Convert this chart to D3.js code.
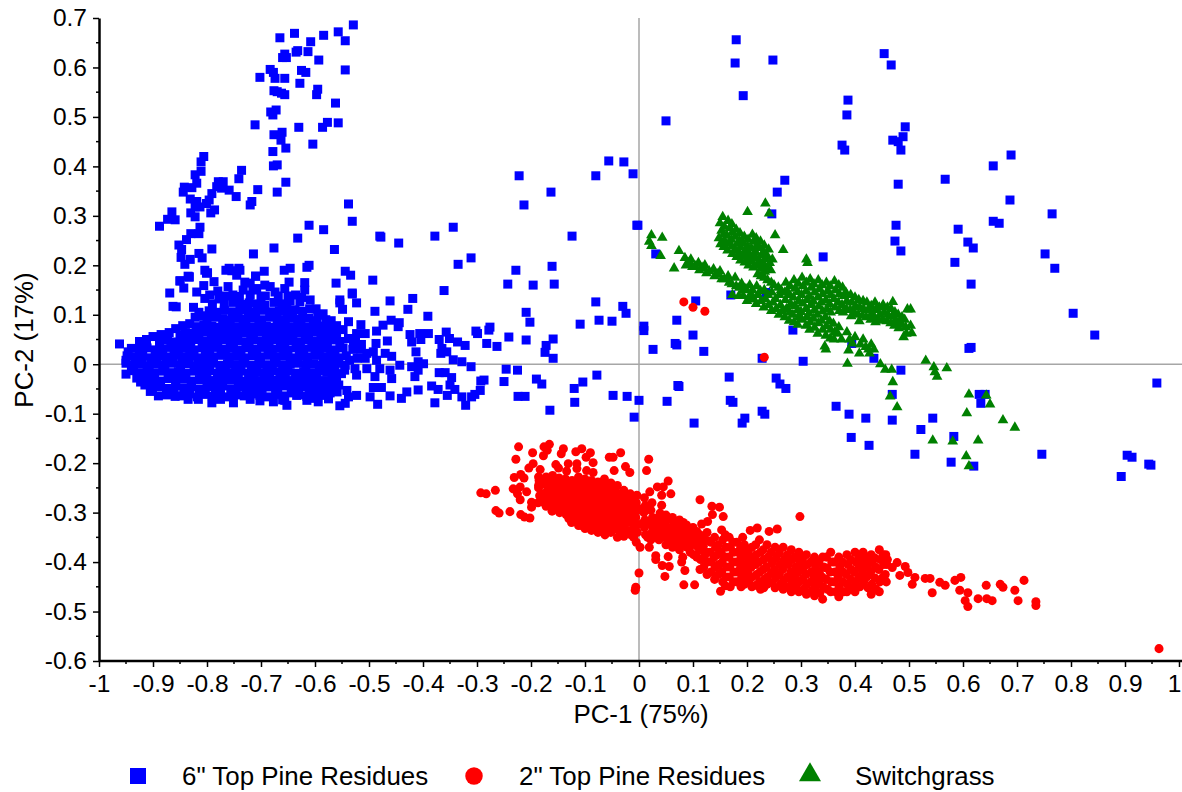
<!DOCTYPE html>
<html><head><meta charset="utf-8">
<script src="https://cdn.jsdelivr.net/npm/d3@7"></script>
<style>html,body{margin:0;padding:0;background:#fff;overflow:hidden}text{font-family:"Liberation Sans",Arial,sans-serif;fill:#000}</style>
</head><body><svg id="c" width="1182" height="792"></svg>
<script>
const xTicks=[-1,-0.9,-0.8,-0.7,-0.6,-0.5,-0.4,-0.3,-0.2,-0.1,0,0.1,0.2,0.3,0.4,0.5,0.6,0.7,0.8,0.9,1];
const yTicks=[0.7,0.6,0.5,0.4,0.3,0.2,0.1,0,-0.1,-0.2,-0.3,-0.4,-0.5,-0.6];
const seriesNames=['6" Top Pine Residues','2" Top Pine Residues','Switchgrass'];
const seriesColors=['#0000ff','#ff0000','#008000'];
const xTitle='PC-1 (75%)', yTitle='PC-2 (17%)';

// 6" Top Pine Residues: upper lobe
const blueUpper=[[-0.529,0.686],[-0.557,0.672],[-0.638,0.669],[-0.665,0.660],[-0.584,0.665],[-0.544,0.654],[-0.608,0.652],[-0.632,0.634],[-0.635,0.631],[-0.613,0.632],[-0.656,0.627],[-0.660,0.620],[-0.653,0.620],[-0.593,0.615],[-0.544,0.595],[-0.683,0.596],[-0.677,0.590],[-0.625,0.594],[-0.617,0.590],[-0.702,0.580],[-0.674,0.578],[-0.656,0.578],[-0.628,0.568],[-0.595,0.556],[-0.597,0.545],[-0.676,0.553],[-0.670,0.551],[-0.662,0.548],[-0.656,0.545],[-0.562,0.528],[-0.672,0.514],[-0.682,0.510],[-0.678,0.504],[-0.577,0.489],[-0.557,0.488],[-0.586,0.479],[-0.711,0.484],[-0.630,0.479],[-0.661,0.469],[-0.676,0.464],[-0.663,0.453],[-0.654,0.437],[-0.604,0.445],[-0.678,0.430],[-0.670,0.403],[-0.677,0.401],[-0.736,0.392],[-0.741,0.375],[-0.654,0.368],[-0.670,0.348],[-0.706,0.353],[-0.806,0.420],[-0.811,0.409],[-0.811,0.390],[-0.822,0.383],[-0.819,0.366],[-0.842,0.358],[-0.828,0.357],[-0.844,0.348],[-0.779,0.369],[-0.770,0.369],[-0.782,0.359],[-0.773,0.356],[-0.759,0.352],[-0.746,0.339],[-0.791,0.345],[-0.796,0.332],[-0.831,0.334],[-0.819,0.329],[-0.801,0.325],[-0.813,0.318],[-0.822,0.318],[-0.786,0.312],[-0.793,0.306],[-0.830,0.306],[-0.822,0.298],[-0.865,0.308],[-0.873,0.293],[-0.859,0.292],[-0.888,0.279],[-0.813,0.277],[-0.830,0.264],[-0.815,0.264],[-0.838,0.252],[-0.852,0.241],[-0.847,0.232],[-0.815,0.224],[-0.791,0.233],[-0.848,0.216],[-0.831,0.212],[-0.809,0.215],[-0.841,0.202],[-0.717,0.329],[-0.720,0.322],[-0.611,0.281],[-0.584,0.272],[-0.632,0.255],[-0.531,0.289],[-0.538,0.324],[-0.478,0.257],[-0.445,0.245],[-0.564,0.232],[-0.676,0.235],[-0.714,0.223],[-0.611,0.200],[-0.657,0.190],[-0.694,0.188],[-0.765,0.190],[-0.741,0.194],[-0.754,0.189],[-0.745,0.180],[-0.710,0.178],[-0.544,0.188],[-0.534,0.180],[-0.799,0.185],[-0.833,0.177],[-0.850,0.169],[-0.493,0.170],[-0.561,0.164],[-0.531,0.142],[-0.554,0.130],[-0.615,0.196],[-0.646,0.194],[-0.693,0.160],[-0.720,0.164],[-0.739,0.190],[-0.759,0.194],[-0.804,0.190],[-0.843,0.154],[-0.863,0.117],[-0.835,0.178]];
// 6" Top Pine Residues: sparse points to the right
const blueSparse=[[-0.480,0.259],[-0.378,0.259],[-0.344,0.277],[-0.335,0.202],[-0.311,0.215],[-0.222,0.381],[-0.213,0.322],[-0.163,0.348],[-0.124,0.259],[-0.080,0.381],[-0.056,0.411],[-0.028,0.409],[-0.011,0.385],[-0.002,0.281],[0.050,0.492],[-0.228,0.190],[-0.243,0.162],[-0.161,0.198],[-0.196,0.160],[-0.157,0.162],[-0.080,0.126],[-0.030,0.117],[-0.050,0.087],[-0.074,0.089],[-0.109,0.081],[-0.209,0.105],[-0.209,0.049],[-0.202,0.085],[-0.241,0.055],[-0.276,0.075],[-0.263,0.036],[-0.302,0.067],[-0.322,0.038],[-0.159,0.051],[-0.174,0.024],[-0.159,0.012],[-0.172,0.038],[-0.246,-0.010],[-0.287,-0.032],[-0.250,-0.035],[-0.224,-0.065],[-0.211,-0.065],[-0.165,-0.093],[-0.119,-0.077],[-0.104,-0.036],[-0.120,-0.049],[-0.078,-0.022],[-0.048,-0.063],[-0.022,-0.065],[-0.009,-0.107],[0,-0.073],[0.052,-0.075],[0.072,-0.043],[0.102,-0.119],[-0.180,-0.040],[-0.190,-0.030],[-0.225,-0.012],[0.180,0.656],[0.178,0.609],[0.193,0.543],[0.248,0.615],[0.454,0.628],[0.467,0.605],[0.387,0.534],[0.385,0.504],[0.376,0.443],[0.381,0.433],[0.470,0.453],[0.480,0.450],[0.493,0.480],[0.485,0.433],[0.489,0.460],[0.480,0.364],[0.567,0.374],[0.656,0.401],[0.689,0.423],[0.687,0.332],[0.656,0.289],[0.667,0.285],[0.765,0.304],[0.752,0.223],[0.770,0.194],[0.804,0.103],[0.844,0.059],[0.959,-0.038],[0.591,0.273],[0.609,0.247],[0.619,0.235],[0.585,0.206],[0.476,0.281],[0.474,0.249],[0.485,0.229],[0.611,0.032],[0.615,0.034],[0.615,0.162],[0.630,-0.061],[0.641,-0.061],[0.633,-0.079],[0.893,-0.227],[0.904,-0.184],[0.913,-0.188],[0.944,-0.202],[0.948,-0.204],[0.746,-0.182],[0.620,-0.206],[0.578,-0.198],[0.511,-0.182],[0.522,-0.132],[0.544,-0.109],[0.583,-0.146],[0.469,-0.061],[0.469,-0.113],[0.420,-0.109],[0.389,-0.101],[0.365,-0.085],[0.393,-0.148],[0.426,-0.164],[0.191,-0.119],[0.196,-0.109],[0.169,-0.073],[0.174,-0.077],[0.228,-0.095],[0.233,-0.101],[0.254,-0.028],[0.261,-0.040],[0.272,-0.049],[0.167,-0.026],[0.304,0.006],[0.228,0.012],[0.031,0.223],[0.105,0.128],[-0.024,0.103],[0.009,0.077],[0.009,0.068],[0.070,0.089],[0.100,0.059],[0.067,0.042],[0.070,0.039],[0.026,0.030],[0.120,0.026],[0.074,-0.045],[0.485,-0.012],[0.435,0.012],[0.394,0.042],[0.341,0.217],[0.246,0.304],[0.256,0.348],[0.270,0.372],[0.285,0.069],[0.235,0.145],[0.170,0.140],[-0.004,0.281]];
// 6" Top Pine Residues: fringe of the lower cluster
const blueFringe=[[-0.361,0.149],[-0.419,0.133],[-0.461,0.128],[-0.531,0.144],[-0.523,0.124],[-0.554,0.124],[-0.549,0.111],[-0.489,0.107],[-0.428,0.111],[-0.391,0.097],[-0.538,0.086],[-0.515,0.080],[-0.459,0.089],[-0.474,0.079],[-0.444,0.084],[-0.446,0.076],[-0.486,0.067],[-0.523,0.062],[-0.507,0.062],[-0.424,0.060],[-0.406,0.062],[-0.390,0.062],[-0.357,0.065],[-0.299,0.062],[-0.278,0.069],[-0.282,0.042],[-0.370,0.050],[-0.351,0.052],[-0.336,0.045],[-0.404,0.050],[-0.421,0.045],[-0.466,0.047],[-0.487,0.042],[-0.514,0.040],[-0.529,0.043],[-0.413,0.025],[-0.365,0.032],[-0.356,0.025],[-0.367,0.022],[-0.504,0.022],[-0.492,0.025],[-0.470,0.022],[-0.458,0.016],[-0.507,0.012],[-0.486,0.008],[-0.344,0.009],[-0.328,0.005],[-0.409,0.005],[-0.399,0.001],[-0.311,-0.005],[-0.443,-0.002],[-0.421,-0.005],[-0.526,-0.009],[-0.504,-0.009],[-0.480,-0.009],[-0.461,-0.012],[-0.409,-0.012],[-0.370,-0.017],[-0.359,-0.017],[-0.347,-0.027],[-0.551,-0.019],[-0.523,-0.022],[-0.489,-0.025],[-0.458,-0.029],[-0.415,-0.025],[-0.293,-0.034],[-0.384,-0.044],[-0.372,-0.051],[-0.350,-0.042],[-0.341,-0.051],[-0.355,-0.063],[-0.294,-0.053],[-0.304,-0.061],[-0.310,-0.066],[-0.328,-0.066],[-0.321,-0.083],[-0.378,-0.078],[-0.409,-0.052],[-0.430,-0.056],[-0.440,-0.069],[-0.461,-0.064],[-0.477,-0.047],[-0.492,-0.047],[-0.498,-0.066],[-0.484,-0.081],[-0.523,-0.063],[-0.541,-0.053],[-0.538,-0.066],[-0.544,-0.079],[-0.554,-0.084],[-0.559,-0.056],[-0.578,-0.056],[-0.594,-0.076],[-0.603,-0.069],[-0.652,-0.083],[-0.656,-0.073],[-0.634,-0.063],[-0.677,-0.076],[-0.702,-0.074],[-0.751,-0.078],[-0.791,-0.078],[-0.816,-0.071],[-0.859,-0.065],[-0.890,-0.064],[-0.923,-0.036],[-0.950,-0.020],[-0.962,0.041],[-0.946,0.025],[-0.857,0.116],[-0.869,0.144],[-0.850,0.168],[-0.833,0.176],[-0.801,0.184],[-0.806,0.159],[-0.787,0.167],[-0.730,0.166],[-0.710,0.178],[-0.648,0.166],[-0.619,0.165],[-0.819,0.146],[-0.825,0.115],[-0.804,0.133],[-0.761,0.157],[-0.708,0.153],[-0.683,0.157],[-0.674,0.146],[-0.656,0.153],[-0.619,0.150],[-0.609,0.130],[-0.628,0.126],[-0.693,0.119],[-0.652,0.119],[-0.595,0.099]];
// 6" Top Pine Residues: dense core
const blueCore=[[-0.875,-0.062],[-0.861,-0.058],[-0.847,-0.064],[-0.832,-0.06],[-0.818,-0.066],[-0.803,-0.061],[-0.79,-0.065],[-0.775,-0.059],[-0.76,-0.066],[-0.746,-0.062],[-0.731,-0.064],[-0.717,-0.06],[-0.702,-0.063],[-0.688,-0.066],[-0.673,-0.061],[-0.659,-0.064],[-0.644,-0.058],[-0.63,-0.062],[-0.615,-0.065],[-0.6,-0.06],[-0.586,-0.063],
[-0.915,-0.042],[-0.901,-0.047],[-0.886,-0.045],[-0.872,-0.049],[-0.858,-0.044],[-0.843,-0.048],[-0.829,-0.046],[-0.814,-0.05],[-0.8,-0.045],[-0.785,-0.048],[-0.771,-0.044],[-0.756,-0.05],[-0.742,-0.046],[-0.727,-0.048],[-0.713,-0.045],[-0.698,-0.049],[-0.684,-0.046],[-0.669,-0.048],[-0.655,-0.044],[-0.64,-0.049],[-0.626,-0.046],[-0.611,-0.048],[-0.597,-0.045],[-0.582,-0.047],[-0.568,-0.044],
[-0.93,-0.028],[-0.916,-0.032],[-0.901,-0.03],[-0.887,-0.034],[-0.872,-0.029],[-0.858,-0.032],[-0.843,-0.03],[-0.829,-0.034],[-0.814,-0.031],[-0.8,-0.029],[-0.785,-0.033],[-0.771,-0.03],[-0.756,-0.032],[-0.742,-0.029],[-0.727,-0.034],[-0.713,-0.031],[-0.698,-0.033],[-0.684,-0.03],[-0.669,-0.032],[-0.655,-0.029],[-0.64,-0.033],[-0.626,-0.03],[-0.611,-0.032],[-0.597,-0.029],[-0.582,-0.033],[-0.568,-0.03],
[-0.94,-0.013],[-0.926,-0.017],[-0.911,-0.015],[-0.897,-0.018],[-0.882,-0.014],[-0.868,-0.017],[-0.853,-0.015],[-0.839,-0.018],[-0.824,-0.014],[-0.81,-0.016],[-0.795,-0.013],[-0.781,-0.018],[-0.766,-0.015],[-0.752,-0.017],[-0.737,-0.014],[-0.723,-0.018],[-0.708,-0.015],[-0.694,-0.017],[-0.679,-0.013],[-0.665,-0.016],[-0.65,-0.014],[-0.636,-0.018],[-0.621,-0.015],[-0.607,-0.017],[-0.592,-0.014],[-0.578,-0.016],[-0.563,-0.013],
[-0.95,0.002],[-0.936,-0.002],[-0.921,0.001],[-0.907,-0.003],[-0.892,0],[-0.878,-0.002],[-0.863,0.002],[-0.849,-0.001],[-0.834,0.001],[-0.82,-0.003],[-0.805,0],[-0.791,0.002],[-0.776,-0.002],[-0.762,0.001],[-0.747,-0.001],[-0.733,0.002],[-0.718,-0.002],[-0.704,0.001],[-0.689,-0.001],[-0.675,0.002],[-0.66,-0.002],[-0.646,0],[-0.631,0.002],[-0.617,-0.001],[-0.602,0.001],[-0.588,-0.002],[-0.573,0],[-0.559,0.002],[-0.544,-0.002],
[-0.948,0.017],[-0.933,0.014],[-0.919,0.016],[-0.904,0.013],[-0.89,0.017],[-0.875,0.015],[-0.861,0.018],[-0.846,0.014],[-0.832,0.016],[-0.817,0.013],[-0.803,0.017],[-0.788,0.015],[-0.774,0.018],[-0.759,0.014],[-0.745,0.016],[-0.73,0.013],[-0.716,0.017],[-0.701,0.015],[-0.687,0.018],[-0.672,0.014],[-0.658,0.016],[-0.643,0.013],[-0.629,0.017],[-0.614,0.015],[-0.6,0.018],[-0.585,0.014],[-0.571,0.016],[-0.556,0.013],[-0.542,0.017],
[-0.94,0.032],[-0.925,0.03],[-0.911,0.033],[-0.896,0.029],[-0.882,0.031],[-0.867,0.034],[-0.853,0.03],[-0.838,0.032],[-0.824,0.029],[-0.809,0.033],[-0.795,0.031],[-0.78,0.034],[-0.766,0.03],[-0.751,0.032],[-0.737,0.029],[-0.722,0.033],[-0.708,0.031],[-0.693,0.034],[-0.679,0.03],[-0.664,0.032],[-0.65,0.029],[-0.635,0.033],[-0.621,0.031],[-0.606,0.034],[-0.592,0.03],[-0.577,0.032],[-0.563,0.029],[-0.548,0.033],
[-0.888,0.046],[-0.873,0.049],[-0.859,0.045],[-0.844,0.048],[-0.83,0.046],[-0.815,0.05],[-0.801,0.047],[-0.786,0.045],[-0.772,0.049],[-0.757,0.046],[-0.743,0.048],[-0.728,0.045],[-0.714,0.05],[-0.699,0.047],[-0.685,0.045],[-0.67,0.049],[-0.656,0.046],[-0.641,0.048],[-0.627,0.045],[-0.612,0.05],[-0.598,0.047],[-0.583,0.045],[-0.569,0.049],[-0.554,0.046],
[-0.85,0.06],[-0.835,0.063],[-0.821,0.061],[-0.806,0.065],[-0.792,0.062],[-0.777,0.06],[-0.763,0.064],[-0.748,0.061],[-0.734,0.063],[-0.719,0.06],[-0.705,0.065],[-0.69,0.062],[-0.676,0.06],[-0.661,0.064],[-0.647,0.061],[-0.632,0.063],[-0.618,0.06],[-0.603,0.065],[-0.589,0.062],[-0.574,0.06],[-0.56,0.064],
[-0.82,0.076],[-0.806,0.08],[-0.791,0.077],[-0.777,0.075],[-0.762,0.079],[-0.748,0.076],[-0.733,0.078],[-0.719,0.075],[-0.704,0.08],[-0.69,0.077],[-0.675,0.075],[-0.661,0.079],[-0.646,0.076],[-0.632,0.078],[-0.617,0.075],[-0.603,0.08],[-0.588,0.077],[-0.574,0.075],
[-0.8,0.091],[-0.786,0.095],[-0.771,0.092],[-0.757,0.09],[-0.742,0.094],[-0.728,0.091],[-0.713,0.093],[-0.699,0.09],[-0.684,0.095],[-0.67,0.092],[-0.655,0.09],[-0.641,0.094],[-0.626,0.091],[-0.612,0.093],[-0.597,0.088],
[-0.782,0.105],[-0.768,0.109],[-0.753,0.106],[-0.739,0.11],[-0.724,0.107],[-0.71,0.105],[-0.695,0.109],[-0.681,0.106],[-0.666,0.108],[-0.652,0.105],[-0.637,0.11],[-0.623,0.107],
[-0.768,0.122],[-0.752,0.125],[-0.737,0.121],[-0.722,0.124],[-0.707,0.122],[-0.676,0.125],[-0.661,0.122],[-0.646,0.128],[-0.74,0.137],[-0.72,0.14],[-0.7,0.136],[-0.668,0.138]];
// 6" Top Pine Residues: shoulders and top of the core
const blueShoulder=[[-0.925,0.046],[-0.912,0.05],[-0.9,0.056],[-0.885,0.06],[-0.87,0.064],[-0.858,0.072],[-0.845,0.078],[-0.832,0.082],[-0.84,0.064],[-0.822,0.095],[-0.815,0.105],[-0.808,0.098],[-0.796,0.108],[-0.79,0.122],[-0.778,0.132],[-0.764,0.138],[-0.752,0.14],[-0.733,0.15],[-0.795,0.14],[-0.78,0.148],[-0.715,0.15],[-0.692,0.138],[-0.65,0.138],[-0.636,0.14],[-0.625,0.135],[-0.61,0.112],[-0.598,0.112],[-0.585,0.102],[-0.58,0.09],[-0.57,0.088],[-0.56,0.078],[-0.548,0.07],[-0.538,0.052],[-0.525,0.048],[-0.515,0.03],[-0.53,0.03],[-0.522,0.012],[-0.536,0.008],[-0.545,-0.012],[-0.56,-0.03],[-0.556,-0.042],[-0.572,-0.058],[-0.575,-0.07],[-0.615,-0.073],[-0.66,-0.072],[-0.72,-0.071],[-0.775,-0.071],[-0.835,-0.071],[-0.87,-0.055],[-0.905,-0.055],[-0.95,0.008]];
// 2" Top Pine Residues: scattered points
const redSparse=[[-0.293,-0.260],[-0.283,-0.262],[-0.266,-0.255],[-0.265,-0.296],[-0.259,-0.301],[-0.239,-0.298],[-0.219,-0.304],[-0.212,-0.309],[-0.202,-0.311],[-0.223,-0.167],[-0.228,-0.192],[-0.197,-0.179],[-0.176,-0.167],[-0.166,-0.162],[-0.170,-0.174],[-0.177,-0.185],[-0.140,-0.171],[-0.144,-0.181],[-0.117,-0.177],[-0.106,-0.171],[-0.090,-0.179],[-0.098,-0.188],[-0.055,-0.188],[-0.048,-0.188],[-0.034,-0.179],[0.018,-0.192],[0.014,-0.215],[-0.085,-0.199],[-0.154,-0.203],[-0.131,-0.201],[-0.115,-0.201],[-0.196,-0.201],[-0.204,-0.210],[-0.183,-0.213],[-0.134,-0.216],[-0.115,-0.211],[-0.149,-0.210],[-0.097,-0.215],[-0.085,-0.219],[-0.046,-0.215],[-0.025,-0.207],[-0.017,-0.219],[-0.231,-0.229],[-0.219,-0.223],[-0.213,-0.230],[-0.233,-0.252],[-0.220,-0.248],[-0.225,-0.262],[-0.220,-0.274],[-0.208,-0.258],[-0.199,-0.279],[-0.199,-0.289],[-0.186,-0.228],[-0.186,-0.245],[0.054,-0.236],[0.045,-0.248],[0.034,-0.248],[0.059,-0.262],[0.020,-0.258],[0.113,-0.274],[0.042,-0.265],[0.042,-0.285],[0.039,-0.301],[0.149,-0.289],[0.136,-0.304],[0.156,-0.308],[0.127,-0.318],[0.116,-0.323],[0.219,-0.331],[0.241,-0.338],[0.256,-0.333],[0.192,-0.350],[0.031,-0.387],[0.031,-0.395],[0.054,-0.389],[0.056,-0.409],[0.043,-0.407],[0.048,-0.429],[0.083,-0.446],[0.103,-0.446],[0,-0.422],[-0.006,-0.451],[-0.007,-0.457],[0.151,-0.459],[0.002,-0.370],[0.019,-0.370],[0.081,-0.390],[0.079,-0.400],[0.085,-0.417],[0.298,-0.308],[0.206,-0.336],[0.135,-0.287],[0.083,0.126],[0.100,0.115],[0.122,0.107],[0.232,0.014]];
// 2" Top Pine Residues: long tail
const redTail=[[0.469,-0.411],[0.478,-0.401],[0.493,-0.409],[0.483,-0.427],[0.498,-0.421],[0.511,-0.431],[0.506,-0.445],[0.530,-0.433],[0.539,-0.433],[0.543,-0.462],[0.557,-0.441],[0.567,-0.447],[0.585,-0.437],[0.594,-0.457],[0.596,-0.431],[0.604,-0.478],[0.609,-0.462],[0.609,-0.490],[0.628,-0.474],[0.643,-0.447],[0.644,-0.474],[0.654,-0.478],[0.669,-0.445],[0.674,-0.451],[0.696,-0.457],[0.702,-0.478],[0.713,-0.437],[0.735,-0.488],[0.735,-0.480],[0.963,-0.575]];
// 2" Top Pine Residues: dense left blob
const redBlobA=[[-0.185,-0.235],[-0.186,-0.25],[-0.184,-0.266],[-0.187,-0.28],[-0.172,-0.228],[-0.174,-0.243],[-0.171,-0.258],[-0.173,-0.272],[-0.172,-0.287],[-0.16,-0.225],[-0.161,-0.24],[-0.159,-0.254],[-0.162,-0.268],[-0.16,-0.283],[-0.161,-0.297],[-0.148,-0.23],[-0.149,-0.245],[-0.147,-0.259],[-0.15,-0.273],[-0.148,-0.287],[-0.147,-0.3],[-0.136,-0.232],[-0.137,-0.246],[-0.135,-0.26],[-0.138,-0.275],[-0.136,-0.289],[-0.135,-0.304],[-0.124,-0.235],[-0.125,-0.25],[-0.123,-0.263],[-0.126,-0.277],[-0.124,-0.292],[-0.123,-0.306],[-0.125,-0.32],[-0.112,-0.228],[-0.113,-0.243],[-0.111,-0.258],[-0.114,-0.272],[-0.112,-0.287],[-0.111,-0.3],[-0.113,-0.314],[-0.112,-0.326],[-0.1,-0.232],[-0.101,-0.247],[-0.099,-0.261],[-0.102,-0.276],[-0.1,-0.29],[-0.099,-0.305],[-0.101,-0.32],[-0.1,-0.332],[-0.088,-0.235],[-0.089,-0.25],[-0.087,-0.264],[-0.09,-0.279],[-0.088,-0.293],[-0.087,-0.308],[-0.089,-0.322],[-0.088,-0.336],[-0.076,-0.238],[-0.077,-0.253],[-0.075,-0.268],[-0.078,-0.282],[-0.076,-0.297],[-0.075,-0.311],[-0.077,-0.326],[-0.076,-0.34],[-0.064,-0.232],[-0.065,-0.247],[-0.063,-0.262],[-0.066,-0.276],[-0.064,-0.291],[-0.063,-0.305],[-0.065,-0.32],[-0.064,-0.334],[-0.063,-0.345],[-0.052,-0.24],[-0.053,-0.255],[-0.051,-0.27],[-0.054,-0.284],[-0.052,-0.299],[-0.051,-0.313],[-0.053,-0.327],[-0.052,-0.34],[-0.04,-0.245],[-0.041,-0.26],[-0.039,-0.275],[-0.042,-0.289],[-0.04,-0.304],[-0.039,-0.318],[-0.041,-0.333],[-0.04,-0.35],[-0.028,-0.255],[-0.029,-0.27],[-0.027,-0.284],[-0.03,-0.299],[-0.028,-0.313],[-0.027,-0.33],[-0.028,-0.348],[-0.016,-0.262],[-0.017,-0.277],[-0.015,-0.291],[-0.018,-0.306],[-0.016,-0.32],[-0.015,-0.345],[-0.004,-0.265],[-0.005,-0.28],[-0.003,-0.295],[-0.006,-0.31],[-0.004,-0.325],[-0.003,-0.34],[-0.005,-0.36]];
// 2" Top Pine Residues: fill of the left blob
const redBlobAFill=[[-0.178,-0.242],[-0.177,-0.262],[-0.179,-0.278],[-0.166,-0.235],[-0.165,-0.25],[-0.167,-0.264],[-0.166,-0.279],[-0.154,-0.238],[-0.155,-0.252],[-0.153,-0.266],[-0.154,-0.28],[-0.155,-0.293],[-0.142,-0.239],[-0.143,-0.253],[-0.141,-0.267],[-0.142,-0.281],[-0.143,-0.296],[-0.13,-0.241],[-0.131,-0.255],[-0.129,-0.27],[-0.13,-0.284],[-0.131,-0.298],[-0.13,-0.312],[-0.118,-0.242],[-0.119,-0.257],[-0.117,-0.271],[-0.118,-0.285],[-0.119,-0.299],[-0.118,-0.313],[-0.106,-0.24],[-0.107,-0.254],[-0.105,-0.268],[-0.106,-0.283],[-0.107,-0.297],[-0.106,-0.312],[-0.106,-0.326],[-0.094,-0.243],[-0.095,-0.257],[-0.093,-0.272],[-0.094,-0.286],[-0.095,-0.3],[-0.094,-0.315],[-0.094,-0.328],[-0.082,-0.245],[-0.083,-0.26],[-0.081,-0.274],[-0.082,-0.288],[-0.083,-0.302],[-0.082,-0.316],[-0.082,-0.33],[-0.07,-0.244],[-0.071,-0.259],[-0.069,-0.273],[-0.07,-0.287],[-0.071,-0.302],[-0.07,-0.316],[-0.07,-0.33],[-0.058,-0.248],[-0.059,-0.263],[-0.057,-0.278],[-0.058,-0.292],[-0.059,-0.306],[-0.058,-0.32],[-0.046,-0.252],[-0.047,-0.267],[-0.045,-0.282],[-0.046,-0.296],[-0.047,-0.31],[-0.046,-0.325],[-0.034,-0.262],[-0.035,-0.277],[-0.033,-0.292],[-0.034,-0.306],[-0.035,-0.32],[-0.034,-0.34],[-0.022,-0.268],[-0.023,-0.283],[-0.021,-0.298],[-0.022,-0.32],[-0.023,-0.337],[-0.01,-0.272],[-0.011,-0.287],[-0.009,-0.302],[-0.01,-0.318],[-0.011,-0.333],[-0.01,-0.35]];
// 2" Top Pine Residues: middle and right blobs
const redBlobB=[[0.01,-0.27],[0.012,-0.285],[0.009,-0.3],[0.011,-0.315],[0.01,-0.33],[0.012,-0.345],[0.024,-0.28],[0.022,-0.295],[0.025,-0.31],[0.023,-0.325],[0.024,-0.34],[0.022,-0.355],[0.036,-0.31],[0.038,-0.325],[0.035,-0.34],[0.037,-0.355],[0.05,-0.305],[0.048,-0.32],[0.051,-0.335],[0.049,-0.35],[0.05,-0.365],[0.062,-0.31],[0.064,-0.325],[0.061,-0.34],[0.063,-0.355],[0.062,-0.37],[0.075,-0.315],[0.077,-0.33],[0.074,-0.345],[0.076,-0.36],[0.075,-0.375],[0.088,-0.325],[0.09,-0.34],[0.087,-0.355],[0.089,-0.37],[0.1,-0.33],[0.102,-0.345],[0.099,-0.36],[0.101,-0.385],[0.113,-0.345],[0.115,-0.36],[0.112,-0.375],[0.114,-0.395],[0.113,-0.415],[0.126,-0.34],[0.128,-0.357],[0.125,-0.38],[0.127,-0.4],[0.126,-0.425],[0.14,-0.35],[0.142,-0.37],[0.139,-0.39],[0.141,-0.41],[0.14,-0.435],[0.153,-0.335],[0.155,-0.355],[0.152,-0.38],[0.154,-0.4],[0.153,-0.42],[0.155,-0.44],[0.167,-0.35],[0.169,-0.37],[0.166,-0.39],[0.168,-0.41],[0.167,-0.43],[0.169,-0.45],[0.181,-0.36],[0.183,-0.38],[0.18,-0.4],[0.182,-0.42],[0.181,-0.44],[0.195,-0.365],[0.197,-0.385],[0.194,-0.405],[0.196,-0.425],[0.195,-0.445],[0.209,-0.37],[0.211,-0.39],[0.208,-0.41],[0.21,-0.43],[0.209,-0.45],[0.223,-0.355],[0.225,-0.38],[0.222,-0.4],[0.224,-0.42],[0.223,-0.44],[0.225,-0.455],[0.237,-0.365],[0.239,-0.39],[0.236,-0.41],[0.238,-0.43],[0.237,-0.445],[0.252,-0.37],[0.254,-0.392],[0.251,-0.415],[0.253,-0.432],[0.252,-0.452],[0.267,-0.37],[0.269,-0.395],[0.266,-0.415],[0.268,-0.437],[0.267,-0.455],[0.282,-0.375],[0.284,-0.395],[0.281,-0.42],[0.283,-0.44],[0.282,-0.46],[0.296,-0.38],[0.298,-0.4],[0.295,-0.42],[0.297,-0.44],[0.296,-0.46],[0.31,-0.385],[0.312,-0.405],[0.309,-0.425],[0.311,-0.445],[0.31,-0.465],[0.325,-0.39],[0.327,-0.41],[0.324,-0.43],[0.326,-0.45],[0.325,-0.468],[0.34,-0.39],[0.342,-0.41],[0.339,-0.43],[0.341,-0.45],[0.34,-0.475],[0.355,-0.38],[0.357,-0.4],[0.354,-0.42],[0.356,-0.44],[0.355,-0.46],[0.37,-0.39],[0.372,-0.41],[0.369,-0.43],[0.371,-0.45],[0.37,-0.47],[0.385,-0.385],[0.387,-0.405],[0.384,-0.425],[0.386,-0.445],[0.385,-0.46],[0.4,-0.38],[0.402,-0.4],[0.399,-0.42],[0.401,-0.44],[0.4,-0.46],[0.415,-0.38],[0.417,-0.4],[0.414,-0.42],[0.416,-0.44],[0.43,-0.385],[0.432,-0.4],[0.429,-0.42],[0.431,-0.445],[0.43,-0.465],[0.445,-0.375],[0.447,-0.395],[0.444,-0.415],[0.446,-0.44],[0.445,-0.46],[0.457,-0.385],[0.459,-0.405],[0.456,-0.425],[0.458,-0.44]];
// 2" Top Pine Residues: fill of the middle and right blobs
const redBlobBFill=[[0.005,-0.292],[0.006,-0.322],[0.017,-0.29],[0.018,-0.318],[0.016,-0.35],[0.03,-0.318],[0.029,-0.333],[0.031,-0.348],[0.043,-0.313],[0.042,-0.328],[0.044,-0.344],[0.056,-0.313],[0.055,-0.33],[0.057,-0.347],[0.056,-0.362],[0.069,-0.323],[0.068,-0.338],[0.07,-0.352],[0.069,-0.367],[0.082,-0.32],[0.081,-0.337],[0.083,-0.35],[0.082,-0.365],[0.095,-0.335],[0.094,-0.35],[0.096,-0.366],[0.095,-0.38],[0.107,-0.338],[0.106,-0.353],[0.108,-0.368],[0.107,-0.39],[0.12,-0.35],[0.119,-0.368],[0.121,-0.388],[0.12,-0.41],[0.133,-0.36],[0.132,-0.38],[0.134,-0.4],[0.133,-0.42],[0.147,-0.365],[0.146,-0.385],[0.148,-0.405],[0.147,-0.425],[0.16,-0.345],[0.161,-0.37],[0.16,-0.39],[0.162,-0.41],[0.161,-0.43],[0.16,-0.448],[0.174,-0.36],[0.175,-0.38],[0.174,-0.4],[0.176,-0.42],[0.175,-0.44],[0.188,-0.372],[0.189,-0.392],[0.188,-0.412],[0.19,-0.432],[0.189,-0.45],[0.202,-0.378],[0.203,-0.398],[0.202,-0.418],[0.204,-0.438],[0.216,-0.365],[0.217,-0.385],[0.216,-0.405],[0.218,-0.425],[0.217,-0.447],[0.23,-0.375],[0.231,-0.395],[0.23,-0.415],[0.232,-0.435],[0.231,-0.452],[0.245,-0.38],[0.246,-0.402],[0.245,-0.422],[0.247,-0.442],[0.26,-0.382],[0.261,-0.405],[0.26,-0.425],[0.262,-0.445],[0.275,-0.385],[0.276,-0.405],[0.275,-0.43],[0.277,-0.45],[0.289,-0.39],[0.29,-0.41],[0.289,-0.43],[0.291,-0.45],[0.303,-0.393],[0.304,-0.413],[0.303,-0.435],[0.305,-0.455],[0.318,-0.4],[0.319,-0.42],[0.318,-0.44],[0.32,-0.458],[0.333,-0.4],[0.334,-0.42],[0.333,-0.44],[0.335,-0.462],[0.347,-0.39],[0.348,-0.412],[0.347,-0.435],[0.349,-0.455],[0.362,-0.4],[0.363,-0.42],[0.362,-0.44],[0.364,-0.46],[0.377,-0.4],[0.378,-0.42],[0.377,-0.44],[0.379,-0.46],[0.392,-0.395],[0.393,-0.415],[0.392,-0.435],[0.394,-0.452],[0.407,-0.39],[0.408,-0.41],[0.407,-0.43],[0.409,-0.45],[0.422,-0.39],[0.423,-0.41],[0.422,-0.43],[0.424,-0.452],[0.437,-0.392],[0.438,-0.41],[0.437,-0.432],[0.439,-0.455],[0.452,-0.385],[0.453,-0.405],[0.452,-0.43],[0.46,-0.395]];

// Switchgrass: scattered points
const greenSparse=[[0.023,0.261],[0.019,0.248],[0.043,0.256],[0.023,0.239],[0.040,0.219],[0.074,0.229],[0.065,0.194],[0.234,0.325],[0.201,0.308],[0.241,0.305],[0.252,0.261],[0.267,0.231],[0.244,0.190],[0.310,0.212],[0.312,0.205],[0.470,0.126],[0.497,0.111],[0.503,0.111],[0.346,0.030],[0.344,0.036],[0.388,0.028],[0.408,0.022],[0.427,0.022],[0.386,0.001],[0.447,0.000],[0.456,-0.011],[0.468,-0.011],[0.470,-0.036],[0.531,0.007],[0.546,-0.006],[0.548,-0.016],[0.552,-0.025],[0.570,-0.008],[0.465,-0.065],[0.478,-0.087],[0.611,-0.061],[0.643,-0.063],[0.650,-0.081],[0.674,-0.113],[0.696,-0.128],[0.607,-0.099],[0.544,-0.154],[0.581,-0.156],[0.606,-0.186],[0.611,-0.206],[0.628,-0.154]];
// Switchgrass: upper thick band
const greenBandA=[[0.155,0.298],[0.15,0.285],[0.153,0.27],[0.148,0.255],[0.151,0.243],[0.165,0.29],[0.168,0.275],[0.163,0.26],[0.166,0.245],[0.164,0.23],[0.18,0.272],[0.178,0.258],[0.182,0.244],[0.179,0.23],[0.181,0.217],[0.195,0.258],[0.193,0.245],[0.197,0.231],[0.194,0.218],[0.196,0.206],[0.21,0.262],[0.212,0.248],[0.208,0.234],[0.211,0.22],[0.209,0.208],[0.212,0.196],[0.225,0.248],[0.223,0.235],[0.227,0.221],[0.224,0.207],[0.226,0.193],[0.24,0.232],[0.238,0.218],[0.242,0.205],[0.239,0.192],[0.247,0.212],[0.22,0.182],[0.232,0.175],[0.245,0.165],[0.258,0.155],[0.27,0.145],[0.158,0.278],[0.157,0.263],[0.158,0.25],[0.157,0.237],[0.172,0.283],[0.173,0.267],[0.171,0.252],[0.172,0.238],[0.173,0.223],[0.187,0.265],[0.186,0.25],[0.188,0.237],[0.187,0.223],[0.188,0.21],[0.202,0.252],[0.201,0.238],[0.203,0.225],[0.202,0.212],[0.203,0.2],[0.217,0.255],[0.218,0.24],[0.216,0.227],[0.217,0.214],[0.218,0.2],[0.232,0.24],[0.231,0.226],[0.233,0.213],[0.232,0.2],[0.233,0.187],[0.226,0.178],[0.238,0.17],[0.25,0.16],[0.263,0.15]];
// Switchgrass: lower thin band
const greenBandB=[[0.085,0.215],[0.087,0.2],[0.096,0.212],[0.099,0.197],[0.11,0.205],[0.112,0.19],[0.122,0.2],[0.125,0.184],[0.138,0.192],[0.14,0.178],[0.15,0.188],[0.153,0.172],[0.165,0.178],[0.167,0.165],[0.178,0.175],[0.18,0.158],[0.19,0.163],[0.193,0.15],[0.205,0.16],[0.207,0.142],[0.2,0.128],[0.218,0.158],[0.22,0.14],[0.217,0.122],[0.232,0.15],[0.234,0.132],[0.231,0.115],[0.246,0.145],[0.248,0.125],[0.245,0.108],[0.26,0.14],[0.262,0.12],[0.259,0.1],[0.185,0.138],[0.173,0.14],[0.092,0.205],[0.104,0.198],[0.117,0.195],[0.13,0.188],[0.145,0.182],[0.158,0.172],[0.172,0.162],[0.186,0.155],[0.198,0.152],[0.21,0.15],[0.213,0.131],[0.225,0.148],[0.226,0.128],[0.239,0.14],[0.24,0.12],[0.253,0.132],[0.254,0.112],[0.265,0.107],[0.205,0.135],[0.193,0.138]];
// Switchgrass: main blob and arms
const greenMain=[[0.272,0.165],[0.274,0.148],[0.271,0.13],[0.273,0.112],[0.27,0.095],[0.287,0.17],[0.289,0.153],[0.286,0.135],[0.288,0.118],[0.285,0.1],[0.287,0.085],[0.302,0.175],[0.304,0.158],[0.301,0.14],[0.303,0.123],[0.3,0.106],[0.302,0.09],[0.317,0.172],[0.319,0.155],[0.316,0.137],[0.318,0.12],[0.315,0.103],[0.317,0.085],[0.316,0.07],[0.332,0.17],[0.334,0.152],[0.331,0.135],[0.333,0.117],[0.33,0.1],[0.332,0.083],[0.331,0.062],[0.347,0.165],[0.349,0.148],[0.346,0.13],[0.348,0.112],[0.345,0.095],[0.347,0.077],[0.346,0.058],[0.362,0.168],[0.364,0.15],[0.361,0.132],[0.363,0.115],[0.36,0.082],[0.362,0.064],[0.361,0.05],[0.377,0.155],[0.379,0.138],[0.376,0.12],[0.378,0.105],[0.37,0.075],[0.385,0.065],[0.4,0.055],[0.415,0.05],[0.43,0.04],[0.435,0.03],[0.39,0.05],[0.375,0.05],[0.42,0.035],[0.392,0.14],[0.394,0.125],[0.391,0.11],[0.393,0.097],[0.407,0.13],[0.409,0.115],[0.406,0.1],[0.408,0.087],[0.422,0.125],[0.424,0.11],[0.421,0.095],[0.437,0.125],[0.439,0.11],[0.436,0.095],[0.438,0.085],[0.452,0.12],[0.454,0.105],[0.451,0.09],[0.467,0.112],[0.469,0.097],[0.466,0.083],[0.48,0.1],[0.482,0.085],[0.481,0.073],[0.492,0.09],[0.494,0.075],[0.503,0.078],[0.505,0.063],[0.495,0.062],[0.49,0.055],
[0.28,0.158],[0.279,0.14],[0.281,0.122],[0.279,0.105],[0.278,0.088],[0.295,0.163],[0.294,0.146],[0.296,0.128],[0.294,0.11],[0.296,0.095],[0.294,0.08],[0.31,0.165],[0.309,0.147],[0.311,0.13],[0.309,0.112],[0.311,0.095],[0.309,0.078],[0.324,0.162],[0.325,0.145],[0.323,0.127],[0.325,0.11],[0.323,0.092],[0.325,0.074],[0.339,0.16],[0.34,0.142],[0.338,0.125],[0.34,0.107],[0.338,0.088],[0.34,0.07],[0.354,0.158],[0.355,0.14],[0.353,0.122],[0.355,0.105],[0.353,0.087],[0.355,0.07],[0.354,0.052],[0.37,0.16],[0.371,0.142],[0.369,0.125],[0.371,0.108],[0.368,0.062],[0.383,0.145],[0.385,0.128],[0.384,0.112],[0.4,0.135],[0.401,0.118],[0.399,0.104],[0.415,0.128],[0.416,0.112],[0.414,0.098],[0.43,0.118],[0.431,0.103],[0.429,0.09],[0.445,0.115],[0.446,0.1],[0.444,0.088],[0.46,0.115],[0.461,0.1],[0.459,0.087],[0.474,0.105],[0.475,0.09],[0.473,0.078],[0.487,0.095],[0.487,0.08],[0.395,0.042],[0.41,0.04],[0.425,0.03]];

const xScale=d3.scaleLinear().domain([-1,1]).range([99,1179]);
const yScale=d3.scaleLinear().domain([-0.6,0.7]).range([661,18]);
const svg=d3.select('#c');
const tickFont=24.5, titleFont=25.9;
const fmt=d=>String(d);

// zero lines
svg.append('line').attr('x1',xScale(-1)).attr('x2',1182).attr('y1',yScale(0)).attr('y2',yScale(0)).attr('stroke','#a6a6a6').attr('stroke-width',1.5);
svg.append('line').attr('x1',xScale(0)).attr('x2',xScale(0)).attr('y1',yScale(0.7)).attr('y2',yScale(-0.6)).attr('stroke','#a6a6a6').attr('stroke-width',1.5);

// marks
const gPts=svg.append('g');
const blue=[...blueCore,...blueShoulder,...blueFringe,...blueUpper,...blueSparse];
const red=[...redBlobA,...redBlobAFill,...redBlobB,...redBlobBFill,...redSparse,...redTail];
const green=[...greenBandA,...greenBandB,...greenMain,...greenSparse];
const symSquare=d3.symbol().type(d3.symbolSquare).size(81);
const symCircle=d3.symbol().type(d3.symbolCircle).size(64);
const symTri=d3.symbol().type(d3.symbolTriangle).size(50);
[[blue,symSquare,0],[red,symCircle,1],[green,symTri,2]].forEach(([arr,sym,i])=>{
  gPts.selectAll(null).data(arr).join('path').attr('d',sym)
    .attr('transform',d=>`translate(${xScale(d[0])},${yScale(d[1])})`)
    .attr('fill',seriesColors[i]);
});

// axes
const xAxis=svg.append('g').attr('transform','translate(0,661)');
xAxis.call(d3.axisBottom(xScale).tickValues(xTicks).tickFormat(fmt).tickSize(6).tickSizeOuter(0));
xAxis.selectAll('text').attr('font-size',tickFont).attr('y',14).attr('dy','0.71em');
xAxis.selectAll('.tick:last-of-type text').attr('text-anchor','end').attr('x',2);
const yAxis=svg.append('g').attr('transform','translate(99,0)');
yAxis.call(d3.axisLeft(yScale).tickValues(yTicks).tickFormat(fmt).tickSize(6).tickSizeOuter(0));
yAxis.selectAll('text').attr('font-size',tickFont).attr('x',-12);
const xMinor=d3.range(-19,20,2).map(v=>v/20), yMinor=d3.range(-11,14,2).map(v=>v/20);
xAxis.selectAll('.minor').data(xMinor).join('line').attr('class','minor').attr('x1',d=>xScale(d)).attr('x2',d=>xScale(d)).attr('y1',0).attr('y2',3).attr('stroke','#000').attr('stroke-width',1.5);
yAxis.selectAll('.minor').data(yMinor).join('line').attr('class','minor').attr('y1',d=>yScale(d)).attr('y2',d=>yScale(d)).attr('x1',0).attr('x2',-3).attr('stroke','#000').attr('stroke-width',1.5);
svg.selectAll('.domain').attr('stroke','#000').attr('stroke-width',2.5);
svg.selectAll('.tick line').attr('stroke','#000').attr('stroke-width',1.5);
xAxis.select('.domain').attr('d','M99,0H1182');

// titles
svg.append('text').attr('x',641).attr('y',723).attr('text-anchor','middle').attr('font-size',titleFont).text(xTitle);
svg.append('text').attr('transform','translate(33,340) rotate(-90)').attr('text-anchor','middle').attr('font-size',titleFont).text(yTitle);

// legend
const legendY=776;
const legendMarkX=[138,474,810], legendTextX=[182,519,855];
const lg=svg.append('g');
lg.append('path').attr('d',d3.symbol().type(d3.symbolSquare).size(256)()).attr('transform',`translate(${legendMarkX[0]},${legendY})`).attr('fill',seriesColors[0]);
lg.append('path').attr('d',d3.symbol().type(d3.symbolCircle).size(240)()).attr('transform',`translate(${legendMarkX[1]},${legendY})`).attr('fill',seriesColors[1]);
lg.append('path').attr('d',d3.symbol().type(d3.symbolTriangle).size(210)()).attr('transform',`translate(${legendMarkX[2]},${legendY-1})`).attr('fill',seriesColors[2]);
seriesNames.forEach((n,i)=>lg.append('text').attr('x',legendTextX[i]).attr('y',legendY+8.5).attr('font-size',titleFont).text(n));
</script></body></html>
